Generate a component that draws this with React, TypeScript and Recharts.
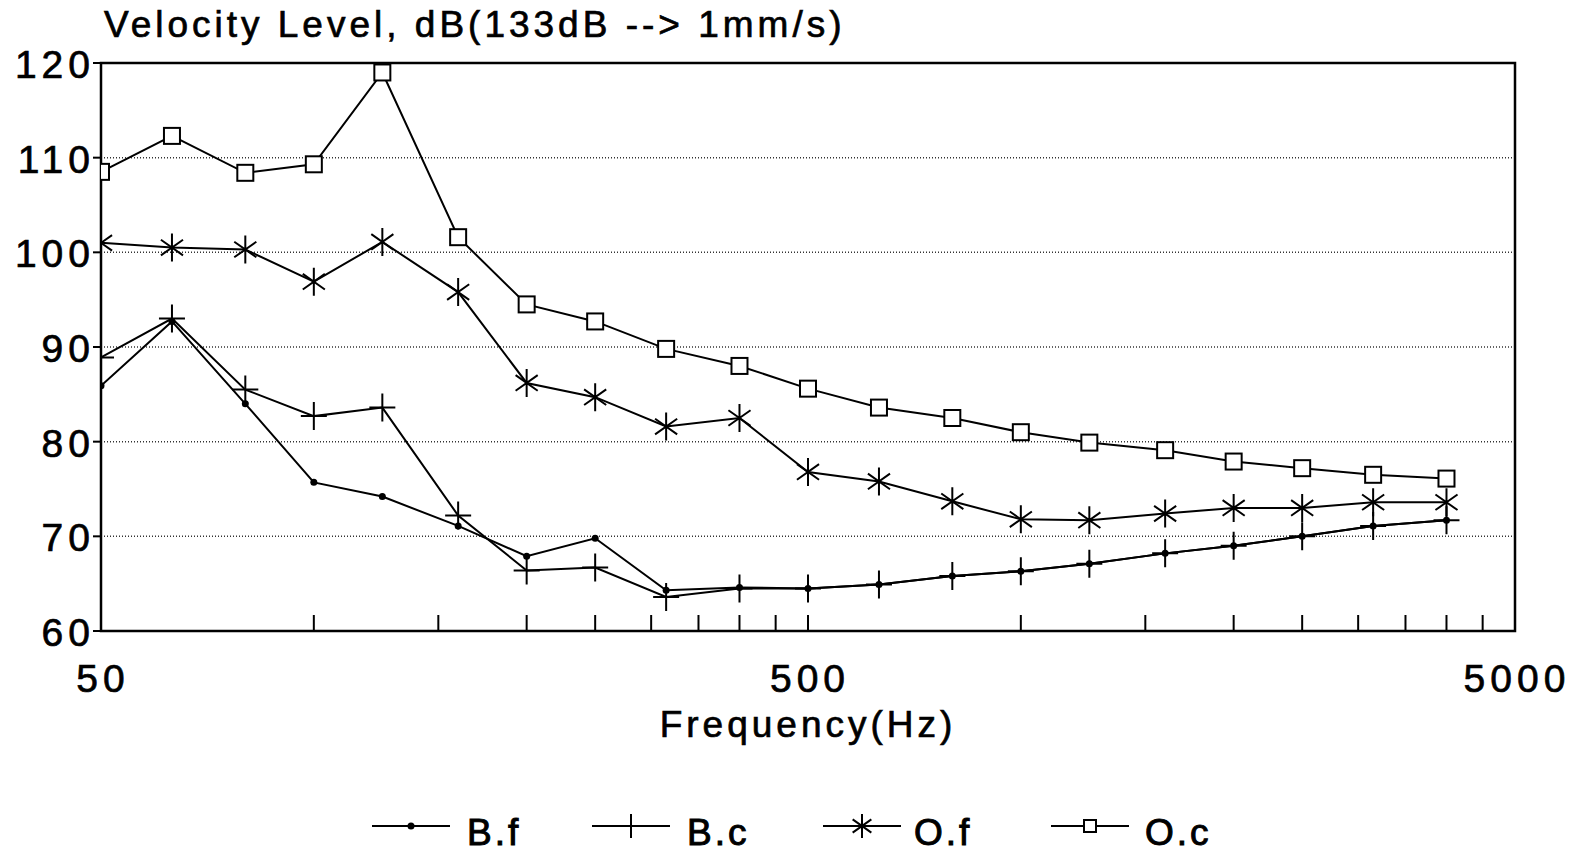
import React from "react";
import { LineChart, Line, XAxis, YAxis, CartesianGrid, ReferenceArea } from "recharts";

// 1/3-octave band centre frequencies (Hz)
const freqs = [50, 63, 80, 100, 125, 160, 200, 250, 315, 400, 500, 630, 800, 1000, 1250, 1600, 2000, 2500, 3150, 4000];

// velocity level, dB
const bF = [85.9, 92.7, 84.0, 75.7, 74.2, 71.1, 67.9, 69.8, 64.3, 64.6, 64.5, 64.9, 65.8, 66.3, 67.1, 68.2, 69.0, 70.0, 71.1, 71.7];
const bC = [88.9, 93.0, 85.5, 82.7, 83.6, 72.2, 66.4, 66.7, 63.6, 64.5, 64.5, 64.9, 65.8, 66.3, 67.1, 68.2, 69.0, 70.0, 71.1, 71.7];
const oF = [101.0, 100.5, 100.3, 96.9, 101.1, 95.8, 86.2, 84.7, 81.6, 82.5, 76.8, 75.8, 73.7, 71.8, 71.7, 72.4, 73.0, 73.0, 73.6, 73.6];
const oC = [108.5, 112.3, 108.4, 109.3, 119.0, 101.6, 94.5, 92.7, 89.8, 88.0, 85.6, 83.6, 82.5, 81.0, 79.9, 79.1, 77.9, 77.2, 76.5, 76.1];

const xTicks = [50, 100, 150, 200, 250, 300, 350, 400, 450, 500, 1000, 1500, 2000, 2500, 3000, 3500, 4000, 4500, 5000];
const xLabels = [50, 500, 5000];
const yTicks = [60, 70, 80, 90, 100, 110, 120];

const seriesNames = ["B.f", "B.c", "O.f", "O.c"];

const data = freqs.map((f, i) => ({ f, bf: bF[i], bc: bC[i], of: oF[i], oc: oC[i] }));

const FONT = "'Liberation Sans', Arial, Helvetica, sans-serif";

function DotMark({ cx, cy }: any) {
  return <circle cx={cx} cy={cy} r={3.5} fill="#000" />;
}

function PlusMark({ cx, cy, s = 13 }: any) {
  return (
    <path d={`M${cx - s},${cy}H${cx + s}M${cx},${cy - s - 1}V${cy + s + 1}`} stroke="#000" strokeWidth={2} fill="none" />
  );
}

function StarMark({ cx, cy, s = 13 }: any) {
  const dx = s * 0.85;
  const dy = s * 0.6;
  return (
    <path
      d={`M${cx},${cy - s - 1}V${cy + s + 1}M${cx - dx},${cy - dy}L${cx + dx},${cy + dy}M${cx - dx},${cy + dy}L${cx + dx},${cy - dy}`}
      stroke="#000"
      strokeWidth={2}
      fill="none"
    />
  );
}

function SquareMark({ cx, cy, s = 8 }: any) {
  return <rect x={cx - s} y={cy - s} width={s * 2} height={s * 2} fill="#fff" stroke="#000" strokeWidth={2} />;
}

const markers = [DotMark, PlusMark, StarMark, SquareMark];

const textProps = { fill: "#000", stroke: "#000", strokeWidth: 0.7, fontFamily: FONT };

function XTick({ x, y, payload }: any) {
  const v = payload.value;
  const inner = v !== 50 && v !== 5000;
  return (
    <g>
      {inner && <line x1={x} x2={x} y1={y} y2={y - 16} stroke="#000" strokeWidth={2} />}
      {xLabels.includes(v) && (
        <text x={x + 2} y={y + 61} textAnchor="middle" fontSize={39} letterSpacing={5} {...textProps}>
          {v}
        </text>
      )}
    </g>
  );
}

function YTick({ x, y, payload }: any) {
  return (
    <text x={x + 4} y={y + 15} textAnchor="end" fontSize={39} letterSpacing={5} {...textProps}>
      {payload.value}
    </text>
  );
}

function LegendRow() {
  const items = [
    { x: 372, tx: 467 },
    { x: 592, tx: 687 },
    { x: 823, tx: 914 },
    { x: 1051, tx: 1145 },
  ];
  const small = [
    (cx: number, cy: number) => <DotMark cx={cx} cy={cy} />,
    (cx: number, cy: number) => <PlusMark cx={cx} cy={cy} s={11} />,
    (cx: number, cy: number) => <StarMark cx={cx} cy={cy} s={11} />,
    (cx: number, cy: number) => <SquareMark cx={cx} cy={cy} s={6} />,
  ];
  return (
    <svg width={1584} height={60} style={{ position: "absolute", left: 0, top: 800 }}>
      {items.map((it, i) => (
        <g key={seriesNames[i]}>
          <line x1={it.x} x2={it.x + 78} y1={26} y2={26} stroke="#000" strokeWidth={2} />
          {small[i](it.x + 39, 26)}
          <text x={it.tx} y={45} fontSize={37} letterSpacing={3} {...textProps} strokeWidth={1}>
            {seriesNames[i]}
          </text>
        </g>
      ))}
    </svg>
  );
}

export default function App() {
  const keys = ["bf", "bc", "of", "oc"];
  return (
    <div style={{ position: "relative", width: 1584, height: 850, background: "#fff", fontFamily: FONT }}>
      <style>{`body{margin:0;background:#fff}`}</style>
      <div
        style={{
          position: "absolute",
          left: 104,
          top: 3,
          fontSize: 37,
          letterSpacing: 4,
          lineHeight: "44px",
          color: "#000",
          whiteSpace: "pre",
          WebkitTextStroke: "0.7px #000",
        }}
      >
        Velocity Level, dB(133dB --{">"} 1mm/s)
      </div>
      <LineChart width={1584} height={850} data={data} margin={{ top: 63, right: 69, bottom: 149, left: 11 }}>
        <CartesianGrid vertical={false} stroke="#333" strokeWidth={1.5} strokeDasharray="1 2" />
        <XAxis
          dataKey="f"
          type="number"
          scale="log"
          domain={[50, 5000]}
          allowDataOverflow
          ticks={xTicks}
          interval={0}
          height={70}
          axisLine={false}
          tickLine={false}
          tickSize={0}
          tickMargin={0}
          tick={<XTick />}
          label={{
            value: "Frequency(Hz)",
            position: "insideBottom",
            offset: -36,
            fontSize: 37,
            letterSpacing: 4,
            ...textProps,
          }}
        />
        <YAxis
          type="number"
          domain={[60, 120]}
          ticks={yTicks}
          interval={0}
          width={90}
          axisLine={false}
          tickLine={{ stroke: "#000", strokeWidth: 2 }}
          tickSize={8}
          tickMargin={2}
          tick={<YTick />}
        />
        <ReferenceArea x1={50} x2={5000} y1={60} y2={120} fill="none" stroke="#000" strokeWidth={2.5} ifOverflow="visible" />
        {keys.map((k, i) => {
          const M = markers[i];
          return (
            <Line
              key={k}
              dataKey={k}
              name={seriesNames[i]}
              type="linear"
              stroke="#000"
              strokeWidth={2}
              isAnimationActive={false}
              dot={(p: any) => <M key={`${k}-${p.index}`} cx={p.cx} cy={p.cy} />}
              activeDot={false}
            />
          );
        })}
      </LineChart>
      <LegendRow />
    </div>
  );
}
